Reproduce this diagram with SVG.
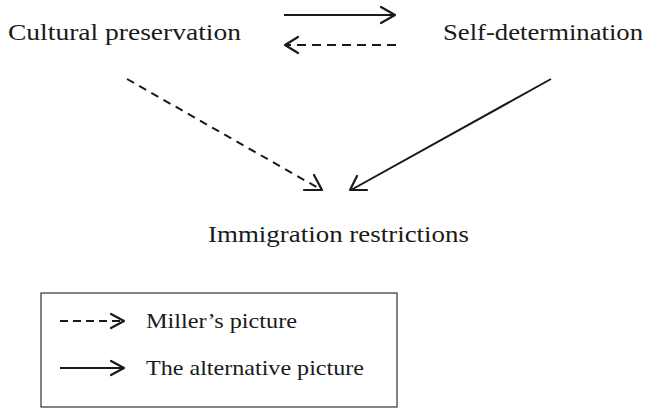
<svg xmlns="http://www.w3.org/2000/svg" width="646" height="409" viewBox="0 0 646 409">
  <style>
    .lbl { font-family: "Liberation Serif", "DejaVu Serif", serif; font-size: 24px; fill: #1a1a1a; }
    .leg { font-family: "Liberation Serif", "DejaVu Serif", serif; font-size: 21px; fill: #1a1a1a; }
    .ln { stroke: #1a1a1a; stroke-width: 2; fill: none; }
    .dash { stroke-dasharray: 9 6; }
    .head { stroke: #1a1a1a; stroke-width: 2.2; fill: none; stroke-linecap: round; stroke-linejoin: round; }
  </style>
  <rect width="646" height="409" fill="#ffffff"/>

  <g id="node-cultural">
    <text class="lbl" x="8" y="40" textLength="233" lengthAdjust="spacingAndGlyphs">Cultural preservation</text>
  </g>
  <g id="node-self">
    <text class="lbl" x="443" y="40" textLength="200" lengthAdjust="spacingAndGlyphs">Self-determination</text>
  </g>
  <g id="node-immigration">
    <text class="lbl" x="208" y="242" textLength="261" lengthAdjust="spacingAndGlyphs">Immigration restrictions</text>
  </g>

  <g id="connectors">
    <!-- cultural -> self (solid) -->
    <line class="ln" x1="284" y1="15" x2="395" y2="15"/>
    <polyline class="head" points="381,7 395,15 381,23"/>
    <!-- self -> cultural (dashed) -->
    <line class="ln dash" x1="396" y1="45" x2="287" y2="45"/>
    <polyline class="head" points="298,37 285,45 298,53"/>
    <!-- cultural -> immigration (dashed) -->
    <line class="ln" x1="127" y1="79" x2="320" y2="189" stroke-dasharray="8 6"/>
    <polyline class="head" points="314,175 322,190 304,190"/>
    <!-- self -> immigration (solid) -->
    <line class="ln" x1="551" y1="79" x2="351" y2="190"/>
    <polyline class="head" points="357,176 350,190 367,190"/>
  </g>

  <g id="legend">
    <rect x="41" y="293" width="356" height="114" fill="none" stroke="#333333" stroke-width="1.2"/>
    <line class="ln" x1="60" y1="321" x2="122" y2="321" stroke-dasharray="8 5"/>
    <polyline class="head" points="111,314 124,321 111,328"/>
    <text class="leg" x="146" y="328" textLength="151" lengthAdjust="spacingAndGlyphs">Miller’s picture</text>
    <line class="ln" x1="60" y1="368" x2="123" y2="368"/>
    <polyline class="head" points="111,361 124,368 111,375"/>
    <text class="leg" x="146" y="375" textLength="218" lengthAdjust="spacingAndGlyphs">The alternative picture</text>
  </g>
</svg>
